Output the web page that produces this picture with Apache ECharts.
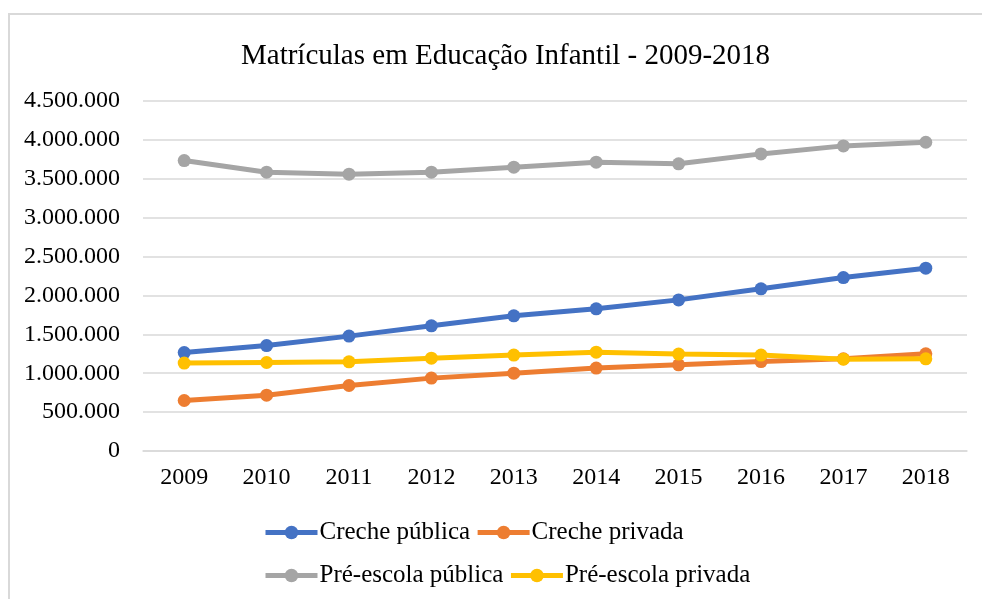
<!DOCTYPE html>
<html>
<head>
<meta charset="utf-8">
<script src="https://cdn.jsdelivr.net/npm/echarts@6/dist/echarts.min.js"></script>
<style>
  html, body { margin: 0; padding: 0; background: #fff; overflow: hidden; }
  .frame { position: absolute; left: 8px; top: 13px; width: 1100px; height: 700px; border: 2px solid #d9d9d9; }
  #chart { position: absolute; left: 0; top: 0; width: 982px; height: 599px; }
</style>
</head>
<body>
<div class="frame"></div>
<div id="chart"></div>
<script>
// anos
const years = ['2009', '2010', '2011', '2012', '2013', '2014', '2015', '2016', '2017', '2018']

// matrículas por rede
const crechePublica = [1266000, 1356000, 1477000, 1609000, 1738000, 1828000, 1943000, 2085000, 2230000, 2351000]
const crechePrivada = [649000, 718000, 842000, 937000, 1001000, 1066000, 1108000, 1150000, 1185000, 1249000]
const preEscolaPublica = [3734000, 3585000, 3559000, 3585000, 3649000, 3713000, 3692000, 3820000, 3923000, 3970000]
const preEscolaPrivada = [1130000, 1138000, 1147000, 1194000, 1233000, 1271000, 1246000, 1233000, 1181000, 1185000]

const fontFamily = '"Liberation Serif", "Times New Roman", serif'

// separador de milhar com ponto
const formatNumber = (v) => String(v).replace(/\B(?=(\d{3})+(?!\d))/g, '.')

const makeSeries = (name, data, color) => ({
  name: name,
  type: 'line',
  data: data,
  symbol: 'circle',
  symbolSize: 13,
  lineStyle: { width: 5, color: color },
  itemStyle: { color: color },
  emphasis: { disabled: true }
})

const chart = echarts.init(document.getElementById('chart'))

const legendBase = {
  left: 258,
  itemWidth: 52,
  itemHeight: 17,
  itemGap: 5,
  lineStyle: { width: 5 },
  textStyle: { fontFamily: fontFamily, fontSize: 25, color: '#000', width: 186, padding: [0, 0, 0, -3] }
}

chart.setOption({
  animation: false,
  title: {
    text: 'Matrículas em Educação Infantil - 2009-2018',
    left: 236,
    top: 37,
    textStyle: { fontFamily: fontFamily, fontSize: 29, fontWeight: 'normal', color: '#000' }
  },
  legend: [
    Object.assign({}, legendBase, { top: 515, data: ['Creche pública', 'Creche privada'] }),
    Object.assign({}, legendBase, { top: 558, data: ['Pré-escola pública', 'Pré-escola privada'] })
  ],
  grid: {
    left: 143,
    right: 15,
    top: 101,
    bottom: 148,
    containLabel: false
  },
  xAxis: {
    type: 'category',
    data: years,
    boundaryGap: true,
    axisLine: { lineStyle: { color: '#d9d9d9', width: 1.5 } },
    axisTick: { show: false },
    axisLabel: { fontFamily: fontFamily, fontSize: 24, color: '#000', margin: 15 }
  },
  yAxis: {
    type: 'value',
    min: 0,
    max: 4500000,
    interval: 500000,
    axisLine: { show: false },
    axisTick: { show: false },
    splitLine: { lineStyle: { color: '#d9d9d9', width: 1.5 } },
    axisLabel: {
      fontFamily: fontFamily,
      fontSize: 24,
      color: '#000',
      margin: 23,
      formatter: formatNumber
    }
  },
  series: [
    makeSeries('Creche pública', crechePublica, '#4472C4'),
    makeSeries('Creche privada', crechePrivada, '#ED7D31'),
    makeSeries('Pré-escola pública', preEscolaPublica, '#A5A5A5'),
    makeSeries('Pré-escola privada', preEscolaPrivada, '#FFC000')
  ]
})
</script>
</body>
</html>
